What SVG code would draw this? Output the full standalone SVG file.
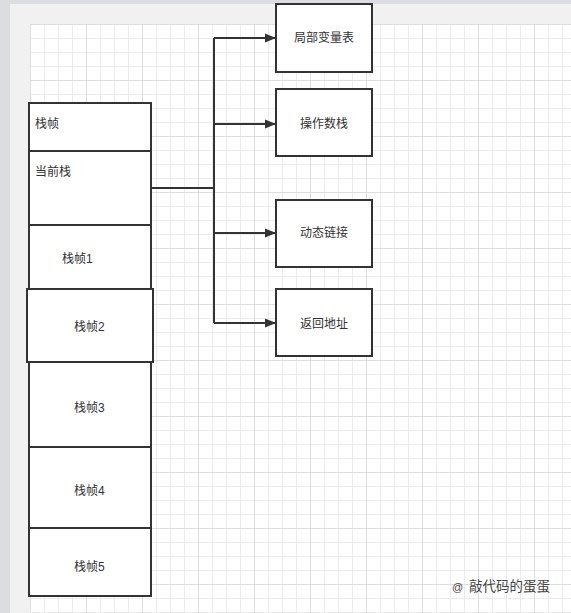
<svg xmlns="http://www.w3.org/2000/svg" width="571" height="613" viewBox="0 0 571 613">
  <defs>
    <pattern id="grid" patternUnits="userSpaceOnUse" x="30" y="24" width="56" height="56">
      <rect width="56" height="56" fill="#ffffff"/>
      <path d="M0 14.5H56M0 28.5H56M0 42.5H56M14.5 0V56M28.5 0V56M42.5 0V56" stroke="#ececec" stroke-width="1" fill="none"/>
      <path d="M0 0.5H56M0.5 0V56" stroke="#dedede" stroke-width="1" fill="none"/>
    </pattern>
    <marker id="arrow" markerUnits="userSpaceOnUse" markerWidth="12" markerHeight="10" refX="11" refY="5" orient="auto">
      <path d="M0 0.5L11 5L0 9.5Z" fill="#333"/>
    </marker>
    <style>
      .box { fill: #ffffff; stroke: #333333; stroke-width: 2; }
      .lbl { font-family: "Liberation Sans", "Noto Sans CJK SC", sans-serif; font-size: 12px; fill: #333333; dominant-baseline: central; }
      .mid { text-anchor: middle; }
      .conn { stroke: #333333; stroke-width: 2; fill: none; }
    </style>
  </defs>

  <!-- background -->
  <rect width="571" height="613" fill="#f1f1f1"/>
  <rect x="0" y="0" width="571" height="4" fill="#dcdde0"/>
  <rect x="0" y="0" width="10" height="613" fill="#dcdde0"/>
  <rect x="30" y="24" width="541" height="589" fill="url(#grid)"/>

  <!-- connectors -->
  <g id="connectors">
    <path class="conn" d="M151 188H214" stroke-width="2.5"/>
    <path class="conn" d="M214 38V323"/>
    <path class="conn" d="M214 38H276" marker-end="url(#arrow)"/>
    <path class="conn" d="M214 124H276" marker-end="url(#arrow)"/>
    <path class="conn" d="M214 233H276" marker-end="url(#arrow)"/>
    <path class="conn" d="M214 323H276" marker-end="url(#arrow)"/>
  </g>

  <!-- left stack -->
  <g id="frame-title">
    <rect class="box" x="29" y="103" width="122" height="48"/>
    <text class="lbl" x="35" y="124">栈帧</text>
  </g>
  <g id="current">
    <rect class="box" x="29" y="151" width="122" height="74"/>
    <text class="lbl" x="35" y="172">当前栈</text>
  </g>
  <g id="frame1">
    <rect class="box" x="29" y="225" width="122" height="64"/>
    <text class="lbl" x="62" y="259">栈帧1</text>
  </g>
  <g id="frame3">
    <rect class="box" x="29" y="362" width="122" height="85"/>
    <text class="lbl" x="74" y="408">栈帧3</text>
  </g>
  <g id="frame4">
    <rect class="box" x="29" y="447" width="122" height="81"/>
    <text class="lbl" x="74" y="491">栈帧4</text>
  </g>
  <g id="frame5">
    <rect class="box" x="29" y="528" width="122" height="68"/>
    <text class="lbl" x="74" y="567">栈帧5</text>
  </g>
  <g id="frame2">
    <rect class="box" x="27" y="289" width="126" height="73"/>
    <text class="lbl" x="74" y="327">栈帧2</text>
  </g>

  <!-- right boxes -->
  <g id="locals">
    <rect class="box" x="276" y="4" width="96" height="68"/>
    <text class="lbl mid" x="324" y="38">局部变量表</text>
  </g>
  <g id="operand">
    <rect class="box" x="276" y="89" width="96" height="67"/>
    <text class="lbl mid" x="324" y="124">操作数栈</text>
  </g>
  <g id="dynlink">
    <rect class="box" x="276" y="200" width="96" height="67"/>
    <text class="lbl mid" x="324" y="233">动态链接</text>
  </g>
  <g id="retaddr">
    <rect class="box" x="276" y="289" width="96" height="67"/>
    <text class="lbl mid" x="324" y="324">返回地址</text>
  </g>

  <!-- watermark -->
  <g id="watermark" font-family="Liberation Sans, 'Noto Sans CJK SC', sans-serif" fill="#444">
    <text x="452" y="591" font-size="11">@</text>
    <text x="469" y="591" font-size="13.5" stroke="#ffffff" stroke-width="0.6" paint-order="stroke">敲代码的蛋蛋</text>
  </g>
</svg>
